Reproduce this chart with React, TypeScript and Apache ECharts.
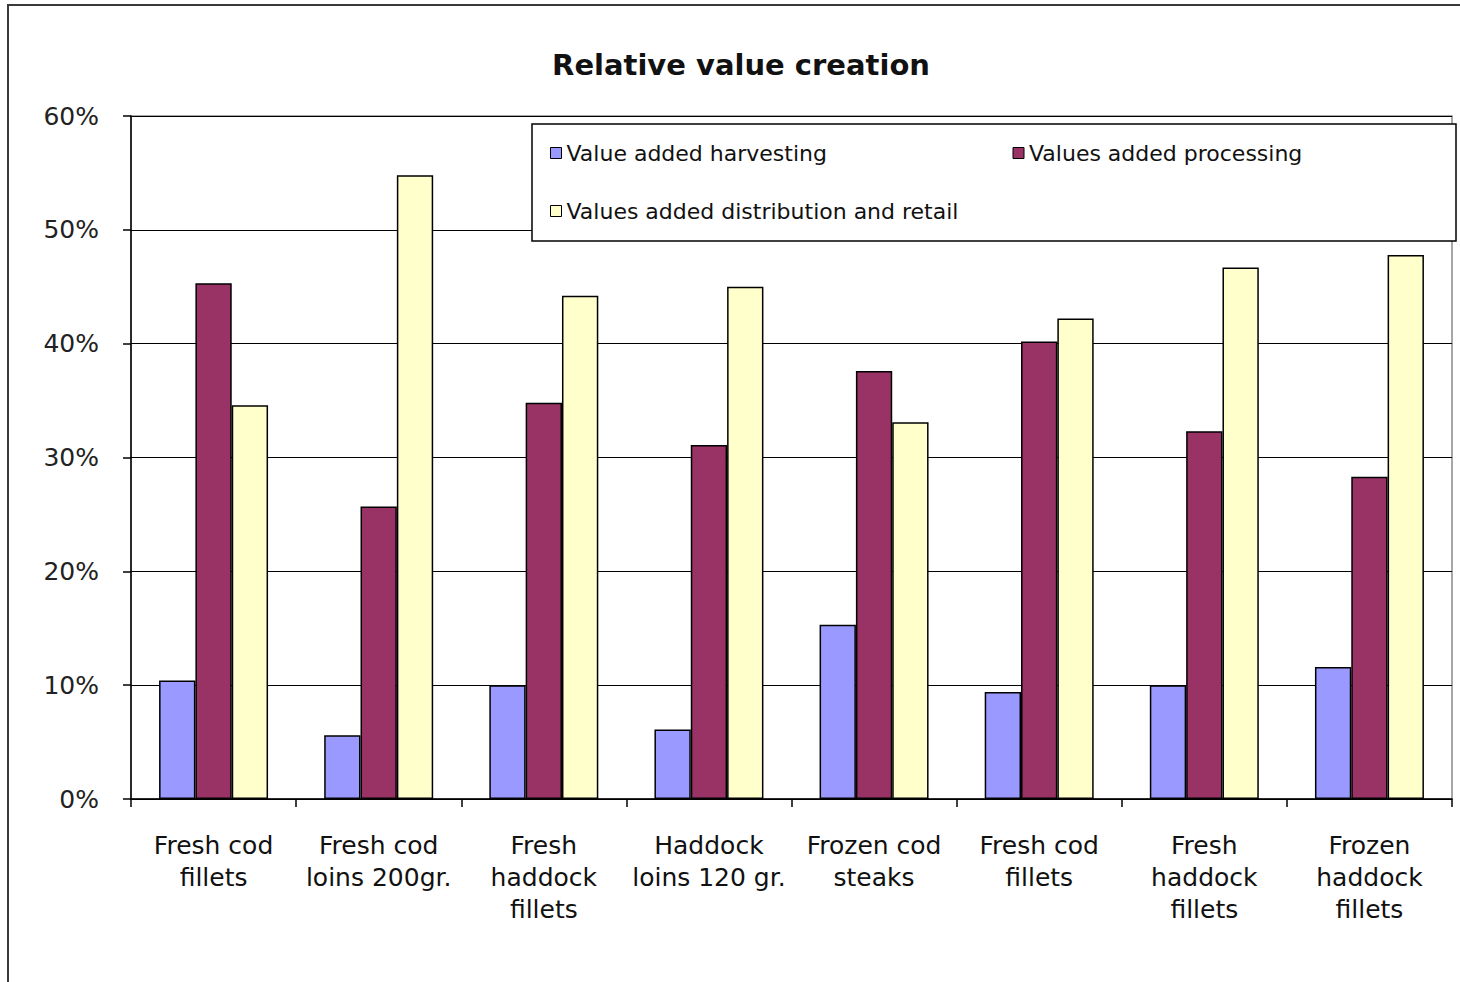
import React, { useEffect, useRef } from "react";
import * as echarts from "echarts";

// Product categories along the x axis
const categories = [
  "Fresh cod\nfillets",
  "Fresh cod\nloins 200gr.",
  "Fresh\nhaddock\nfillets",
  "Haddock\nloins 120 gr.",
  "Frozen cod\nsteaks",
  "Fresh cod\nfillets",
  "Fresh\nhaddock\nfillets",
  "Frozen\nhaddock\nfillets",
];

// Share of total value created at each stage (fractions)
const harvesting = [0.104, 0.056, 0.1, 0.061, 0.153, 0.094, 0.1, 0.116];
const processing = [0.453, 0.257, 0.348, 0.311, 0.376, 0.402, 0.323, 0.283];
const distribution = [0.346, 0.548, 0.442, 0.45, 0.331, 0.422, 0.467, 0.478];

const seriesNames = [
  "Value added harvesting",
  "Values added processing",
  "Values added distribution and retail",
];
const seriesColors = ["#9999FF", "#993366", "#FFFFCC"];

const yTicks = { min: 0, max: 0.6, interval: 0.1 };

const FONT = "DejaVu Sans";

export default function App() {
  const ref = useRef<HTMLDivElement>(null);

  useEffect(() => {
    if (!ref.current) return;
    const chart = echarts.init(ref.current, undefined, { renderer: "svg" });
    const values = [harvesting, processing, distribution];

    chart.setOption({
      animation: false,
      backgroundColor: "#ffffff",
      graphic: [
        {
          type: "rect",
          shape: { x: 8, y: 5, width: 1470, height: 1000 },
          style: { fill: "none", stroke: "#3a3a3a", lineWidth: 2 },
          z: 0,
        },
        {
          type: "text",
          x: 741,
          y: 65,
          style: {
            text: "Relative value creation",
            font: `bold 29px "${FONT}"`,
            fill: "#111",
            align: "center",
            verticalAlign: "middle",
          },
        },
      ],
      grid: {
        left: 131,
        right: 8,
        top: 116,
        bottom: 183,
        show: true,
        borderColor: "#8a8a8a",
        borderWidth: 1.5,
        backgroundColor: "transparent",
      },
      legend: {
        left: 532,
        top: 124,
        width: 1000,
        orient: "horizontal",
        data: seriesNames,
        backgroundColor: "#ffffff",
        borderColor: "#000",
        borderWidth: 1.5,
        padding: [10, 1, 11, 18],
        itemGap: 20,
        itemWidth: 11,
        itemHeight: 11,
        icon: "rect",
        itemStyle: { borderColor: "#000", borderWidth: 1 },
        textStyle: {
          fontFamily: FONT,
          fontSize: 22,
          color: "#111",
          width: 426,
          lineHeight: 38,
          overflow: "none",
        },
        z: 10,
      },
      xAxis: {
        type: "category",
        data: categories,
        axisLine: { lineStyle: { color: "#000", width: 1.5 } },
        axisTick: { show: true, length: 8, lineStyle: { color: "#000", width: 1.5 } },
        axisLabel: {
          interval: 0,
          margin: 30,
          fontFamily: FONT,
          fontSize: 25,
          lineHeight: 32,
          color: "#111",
        },
      },
      yAxis: {
        type: "value",
        min: yTicks.min,
        max: yTicks.max,
        interval: yTicks.interval,
        axisLine: { show: true, lineStyle: { color: "#000", width: 1.5 } },
        axisTick: { show: true, length: 8, lineStyle: { color: "#000", width: 1.5 } },
        splitLine: { lineStyle: { color: "#000", width: 1.2 } },
        axisLabel: {
          margin: 32,
          fontFamily: FONT,
          fontSize: 25,
          color: "#222",
          formatter: (v: number) => `${Math.round(v * 100)}%`,
        },
      },
      series: seriesNames.map((name, i) => ({
        name,
        type: "bar",
        data: values[i],
        barGap: "0%",
        barCategoryGap: "34%",
        itemStyle: {
          color: seriesColors[i],
          borderColor: "#000",
          borderWidth: 1.5,
        },
      })),
    });

    return () => chart.dispose();
  }, []);

  return (
    <div
      ref={ref}
      style={{ position: "fixed", left: 0, top: 0, width: 1460, height: 982 }}
    />
  );
}
